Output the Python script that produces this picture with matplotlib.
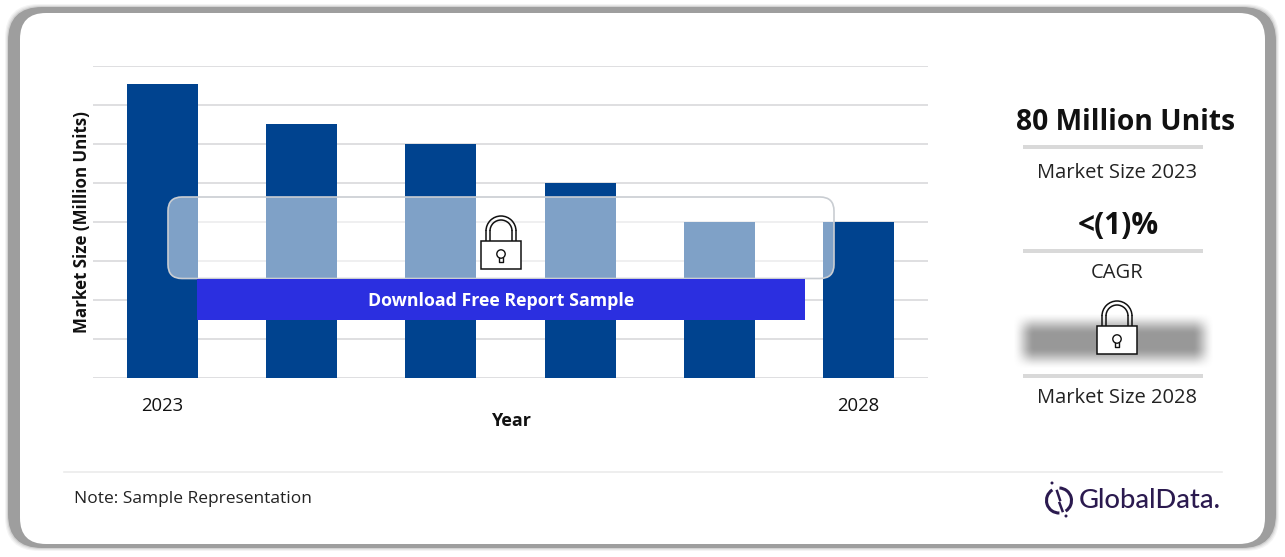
import numpy as np
import matplotlib
matplotlib.use("Agg")
import matplotlib.pyplot as plt
from matplotlib.patches import FancyBboxPatch, Rectangle, Circle, Arc

plt.rcParams['font.family'] = ['Open Sans', 'DejaVu Sans']

years = ['2023', '', '', '', '', '2028']
values = [75.3, 65, 60, 50, 40, 40]
y_ticks = [0, 10, 20, 30, 40, 50, 60, 70, 80]
kpi_values = ['80 Million Units', '<(1)%']
kpi_labels = ['Market Size 2023', 'CAGR', 'Market Size 2028']

W, H = 1285, 557
fig = plt.figure(figsize=(W / 100, H / 100), dpi=100, facecolor='white')

bg = fig.add_axes([0, 0, 1, 1], zorder=0)
bg.set_xlim(0, W); bg.set_ylim(H, 0); bg.axis('off')


def rounded(ax, x0, y0, x1, y1, r, **kw):
    p = FancyBboxPatch((x0 + r, y0 + r), x1 - x0 - 2 * r, y1 - y0 - 2 * r,
                       boxstyle=f"round,pad={r},rounding_size={r}", **kw)
    ax.add_patch(p)
    return p


for grow, a in [(3, .10), (2, .15), (1, .25)]:
    rounded(bg, 8 - grow, 7 - grow, 1276 + grow, 548 + grow, 34,
            fc='#9a9a9a', ec='none', alpha=a)
rounded(bg, 8, 7, 1276, 548, 34, fc='#9e9e9e', ec='none')
rounded(bg, 20, 13, 1265, 544, 26, fc='white', ec='none')

ax = fig.add_axes([93 / W, 1 - 378 / H, 835 / W, 312 / H], zorder=1)
ax.patch.set_alpha(0)
x = np.arange(len(values))
ax.bar(x, values, width=0.51, color='#00438F', zorder=3)
ax.set_xlim(-0.5, 5.5)
ax.set_ylim(0, 80)
ax.set_yticks(y_ticks)
ax.set_yticklabels([])
ax.set_xticks(x)
ax.set_xticklabels(years, fontsize=13.3, color='#111111')
ax.tick_params(axis='both', length=0)
ax.tick_params(axis='x', pad=14)
ax.grid(axis='y', color='#D9D9DC', lw=1.2, zorder=0)
ax.set_axisbelow(True)
for s in ax.spines.values():
    s.set_visible(False)

ov = fig.add_axes([0, 0, 1, 1], zorder=2)
ov.set_xlim(0, W); ov.set_ylim(H, 0); ov.axis('off'); ov.patch.set_alpha(0)

ov.text(511, 421, 'Year', ha='center', va='center', fontsize=13, fontweight='bold', color='#111111')
ov.text(82, 222, 'Market Size (Million Units)', ha='center', va='center', rotation=90,
        fontsize=12.2, fontweight='bold', color='#111111')

rounded(ov, 168, 197, 834, 278.5, 14, fc=(1, 1, 1, 0.5), ec='#C9CDD2', lw=1.2)
ov.add_patch(Rectangle((197, 279), 608, 41, fc='#2B2FE0', ec='none'))
ov.text(501, 301, 'Download Free Report Sample', ha='center', va='center',
        fontsize=12.75, fontweight='bold', color='white')


def lock(ax, cx, top):
    lw = 1.1
    bt = top + 25
    bb = top + 53
    for r in (15, 11):
        cy = top + 15
        ax.add_patch(Arc((cx, cy), 2 * r, 2 * r, theta1=180, theta2=360,
                         ec='#111111', lw=lw, fc='none'))
        ax.plot([cx - r, cx - r], [cy, bt], color='#111111', lw=lw)
        ax.plot([cx + r, cx + r], [cy, bt], color='#111111', lw=lw)
    ax.add_patch(Rectangle((cx - 20, bt), 40, bb - bt, fc='white', ec='#111111', lw=lw, zorder=5))
    ax.add_patch(Circle((cx, top + 38), 4.2, fc='white', ec='#111111', lw=1.0, zorder=6))
    ax.plot([cx - 1.8, cx - 1.8, cx + 1.8, cx + 1.8], [top + 41.5, top + 46, top + 46, top + 41.5],
            color='#111111', lw=1.0, zorder=6)


lock(ov, 501, 216)

sep_kw = dict(fc='#D9D9D9', ec='none')
ov.text(1126, 122, kpi_values[0], ha='center', va='center', fontsize=20.3, fontweight='bold', color='#111111')
ov.add_patch(Rectangle((1023, 145), 180, 4, **sep_kw))
ov.text(1117, 173, kpi_labels[0], ha='center', va='center', fontsize=14.5, color='#222222')
ov.text(1118, 226, kpi_values[1], ha='center', va='center', fontsize=21.5, fontweight='bold', color='#111111')
ov.add_patch(Rectangle((1023, 249), 180, 4, **sep_kw))
ov.text(1117, 273, kpi_labels[1], ha='center', va='center', fontsize=14.5, color='#222222')

# blurred hidden figure
xx, yy = np.meshgrid(np.arange(1000, 1230), np.arange(304, 376))


def edge(d):
    t = np.clip(d / 22.0, 0, 1)
    return t * t * (3 - 2 * t)


alpha = edge(np.minimum(xx - 1012, 1214 - xx)) * edge(np.minimum(yy - 312, 369 - yy)) * 0.62
rgba = np.zeros(xx.shape + (4,))
rgba[..., :3] = 0.35
rgba[..., 3] = alpha
ov.imshow(rgba, extent=(1000, 1230, 376, 304), interpolation='bilinear', aspect='auto', zorder=1)
ov.set_xlim(0, W); ov.set_ylim(H, 0)
lock(ov, 1117, 301)

ov.add_patch(Rectangle((1023, 374), 180, 4, **sep_kw))
ov.text(1117, 398, kpi_labels[2], ha='center', va='center', fontsize=14.5, color='#222222')

ov.plot([64, 1222], [472, 472], color='#EBEBEB', lw=1.2)
ov.text(74, 499, 'Note: Sample Representation', ha='left', va='center', fontsize=12.5, color='#222222')

c = '#2B1A4F'
ov.add_patch(Arc((1059, 500.5), 25, 25, theta1=-88, theta2=58, ec=c, lw=2.2))
ov.add_patch(Arc((1059, 500.5), 25, 25, theta1=88, theta2=238, ec=c, lw=2.2))
ov.plot([1057, 1060], [491, 500], color=c, lw=1.8)
ov.plot([1059.5, 1062.5], [503, 511], color=c, lw=1.8)
ov.add_patch(Circle((1052, 483), 1.5, fc=c, ec='none'))
ov.add_patch(Circle((1066, 516), 1.5, fc=c, ec='none'))
ov.text(1079, 501, 'GlobalData.', ha='left', va='center', fontsize=19.7, color=c,
        family=['Lato', 'DejaVu Sans'], fontweight='medium')

fig.savefig('out.png', dpi=100, facecolor='white')
